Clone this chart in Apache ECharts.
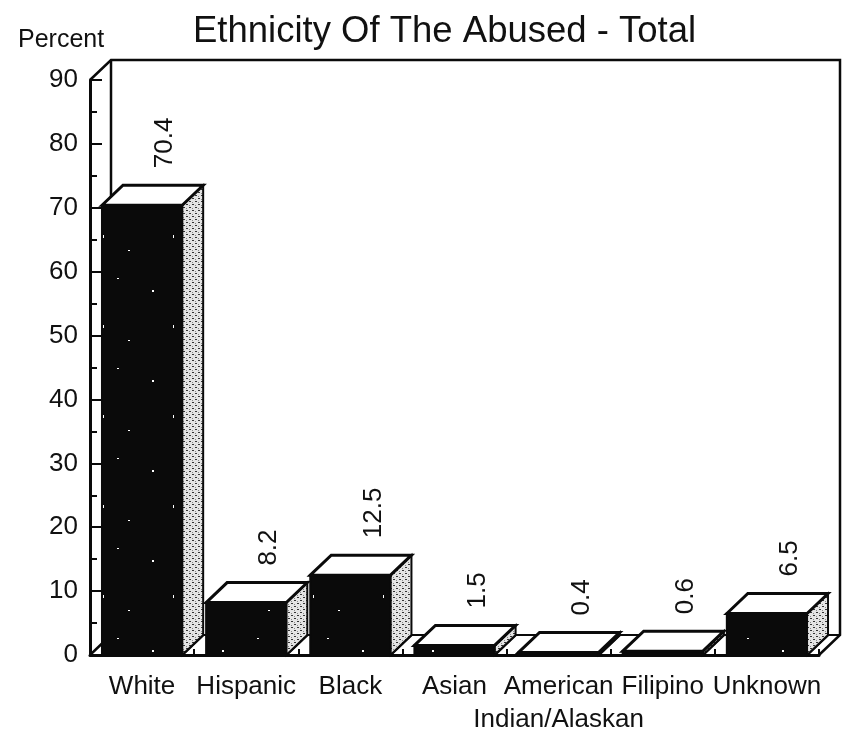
<!DOCTYPE html>
<html>
<head>
<meta charset="utf-8">
<style>
  html, body { margin: 0; padding: 0; background: #fff; }
  #chart { width: 847px; height: 742px; }
</style>
<script src="https://cdn.jsdelivr.net/npm/echarts@6/dist/echarts.min.js"></script>
</head>
<body>
<div id="chart"></div>
<script>
var categories = ['White', 'Hispanic', 'Black', 'Asian', 'American\nIndian/Alaskan', 'Filipino', 'Unknown'];
var percents = [70.4, 8.2, 12.5, 1.5, 0.4, 0.6, 6.5];
var valueLabels = ['70.4', '8.2', '12.5', '1.5', '0.4', '0.6', '6.5'];

var FONT = '"Liberation Sans", Arial, sans-serif';
var INK = '#0a0a0a';
var DX = 21, DY = 20; // depth of the fake 3d

// coarse stipple for the side faces
function sidePattern() {
    var c = document.createElement('canvas');
    c.width = 6;
    c.height = 6;
    var g = c.getContext('2d');
    g.fillStyle = '#e4e4e4';
    g.fillRect(0, 0, 6, 6);
    g.fillStyle = '#333';
    g.fillRect(0, 0, 2, 1);
    g.fillRect(3, 3, 2, 1);
    g.fillStyle = '#8a8a8a';
    g.fillRect(3, 1, 1, 1);
    g.fillRect(0, 4, 1, 1);
    return c;
}

// scan specks on the black fronts
function frontPattern() {
    var c = document.createElement('canvas');
    c.width = 70;
    c.height = 90;
    var g = c.getContext('2d');
    g.fillStyle = INK;
    g.fillRect(0, 0, 70, 90);
    g.fillStyle = '#fff';
    g.fillRect(12, 20, 2, 2);
    g.fillRect(47, 8, 2, 1);
    g.fillRect(33, 55, 1, 3);
    g.fillRect(58, 70, 2, 1);
    return c;
}
var sideFill = { image: sidePattern(), repeat: 'repeat' };
var frontFill = { image: frontPattern(), repeat: 'repeat' };

function line(points, w) {
    return {
        type: 'polyline',
        shape: { points: points },
        style: { fill: null, stroke: INK, lineWidth: w || 2.5 }
    };
}

// back wall, floor and the top corner
function renderWall(params) {
    var r = params.coordSys;
    var l = r.x, t = r.y, b = r.y + r.height, e = r.x + r.width;
    return {
        type: 'group',
        children: [
            line([[l, t], [l + DX, t - DY], [e + DX, t - DY], [e + DX, b - DY], [e, b]]),
            line([[l + DX, t - DY], [l + DX, b - DY], [l, b]]),
            line([[l + DX, b - DY], [e + DX, b - DY]], 2)
        ]
    };
}

function renderBar(params, api) {
    var i = api.value(0);
    var p = api.coord([i, api.value(1)]);
    var base = api.coord([i, 0]);
    var w = api.size([1, 0])[0] * 0.77;
    var x0 = p[0] - w / 2, x1 = p[0] + w / 2;
    var top = p[1], bot = base[1];
    return {
        type: 'group',
        children: [
            // floor diagonal next to the bar
            line([[x1, bot], [x1 + DX, bot - DY]], 2.5),
            {
                type: 'polygon',
                shape: { points: [[x1, top], [x1 + DX, top - DY], [x1 + DX, bot - DY], [x1, bot]] },
                style: { fill: sideFill, stroke: INK, lineWidth: 2 }
            },
            {
                type: 'polygon',
                shape: { points: [[x0, top], [x0 + DX, top - DY], [x1 + DX, top - DY], [x1, top]] },
                style: { fill: '#fff', stroke: INK, lineWidth: 3 }
            },
            {
                type: 'rect',
                shape: { x: x0, y: top, width: w, height: bot - top },
                style: { fill: frontFill, stroke: INK, lineWidth: 2 }
            },
            {
                type: 'text',
                x: p[0] + DX + 2,
                y: top - DY - 17,
                rotation: Math.PI / 2,
                style: {
                    text: valueLabels[i],
                    font: '26px ' + FONT,
                    fill: '#111',
                    textAlign: 'left',
                    textVerticalAlign: 'middle'
                }
            }
        ]
    };
}

var chart = echarts.init(document.getElementById('chart'), null, { renderer: 'canvas' });
chart.setOption({
    backgroundColor: '#fff',
    animation: false,
    title: [
        {
            text: 'Ethnicity Of The Abused - Total',
            left: 188,
            top: 8,
            textStyle: { fontFamily: FONT, fontSize: 36.5, fontWeight: 'normal', color: '#111' }
        },
        {
            text: 'Percent',
            left: 13,
            top: 23,
            textStyle: { fontFamily: FONT, fontSize: 25, fontWeight: 'normal', color: '#111' }
        }
    ],
    grid: { left: 90, right: 28, top: 80, bottom: 87 },
    xAxis: {
        type: 'category',
        data: categories,
        axisLine: { lineStyle: { color: INK, width: 3 } },
        axisTick: { show: true, inside: true, length: 6, alignWithLabel: false, lineStyle: { color: INK, width: 2 } },
        axisLabel: {
            interval: 0,
            margin: 15,
            fontFamily: FONT,
            fontSize: 26,
            lineHeight: 33,
            color: '#111'
        }
    },
    yAxis: {
        type: 'value',
        min: 0,
        max: 90,
        interval: 10,
        splitLine: { show: false },
        axisLine: { show: true, lineStyle: { color: INK, width: 3 } },
        axisTick: { show: true, inside: true, length: 12, lineStyle: { color: INK, width: 2 } },
        minorTick: { show: true, splitNumber: 2, length: 7, lineStyle: { color: INK, width: 2 } },
        axisLabel: { margin: 12, fontFamily: FONT, fontSize: 26, color: '#111', padding: [4, 0, 0, 0] }
    },
    series: [
        { type: 'custom', renderItem: renderWall, data: [[0, 0]], clip: false, silent: true, z: 1 },
        {
            type: 'custom',
            renderItem: renderBar,
            data: percents.map(function (v, i) { return [i, v]; }),
            encode: { x: 0, y: 1 },
            clip: false,
            silent: true,
            z: 3
        }
    ]
});
</script>
</body>
</html>
